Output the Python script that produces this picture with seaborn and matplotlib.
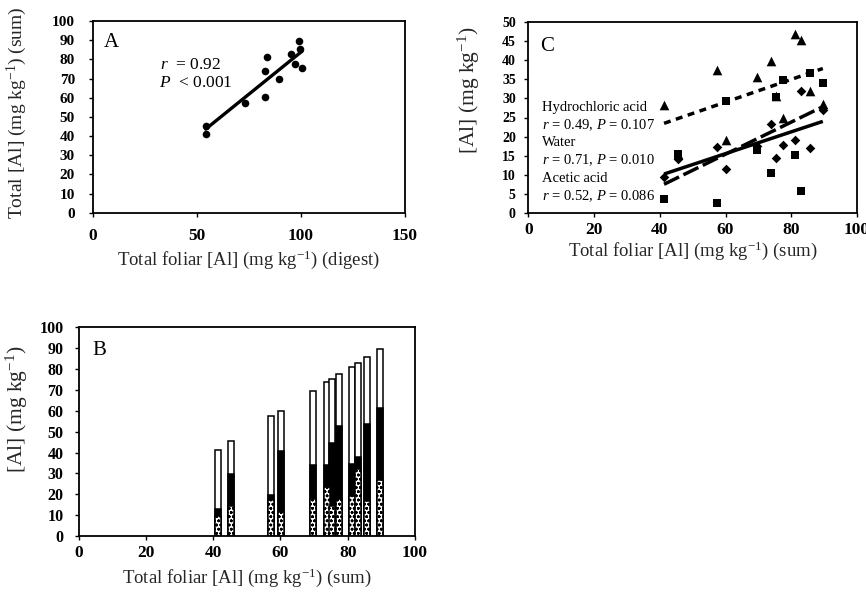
import numpy as np
import pandas as pd
import matplotlib
matplotlib.use("Agg")
import matplotlib.pyplot as plt
import seaborn as sns

# ---------------- data ----------------
# sequential extraction fractions per sample (mg kg-1)
water = [9.4, 14.2, 17.2, 11.6, 17.6, 23.3, 14.4, 17.9, 19.2, 32.0, 17.0, 27.0]
acetic = [3.7, 15.6, 2.6, 29.3, 16.4, 10.6, 30.3, 34.7, 15.2, 5.9, 36.7, 34.1]
hcl = [28.2, 15.6, 37.5, 19.2, 35.6, 39.8, 30.6, 24.8, 46.8, 45.1, 31.9, 28.5]
# total foliar Al by digest (panel A x)
digest = [54.2, 54.2, 72.9, 82.5, 89.4, 82.5, 100.5, 97.0, 83.8, 95.4, 99.4, 98.9]

df = pd.DataFrame({"water": water, "acetic": acetic, "hcl": hcl, "digest": digest})
df["total"] = df["water"] + df["acetic"] + df["hcl"]
df["wa"] = df["water"] + df["acetic"]

sns.set_theme(style="ticks")
plt.rcParams["font.family"] = ["Liberation Serif", "DejaVu Serif"]
plt.rcParams["mathtext.fontset"] = "custom"
plt.rcParams["mathtext.rm"] = "Liberation Serif"
plt.rcParams["mathtext.it"] = "Liberation Serif:italic"
plt.rcParams["mathtext.bf"] = "Liberation Serif:bold"
plt.rcParams["hatch.linewidth"] = 0.8
plt.rcParams["axes.edgecolor"] = "black"
plt.rcParams["text.color"] = "black"
plt.rcParams["xtick.color"] = "black"
plt.rcParams["ytick.color"] = "black"

W, H = 866, 594
fig = plt.figure(figsize=(W / 100, H / 100), dpi=100)


def box(l, r, t, b):
    return fig.add_axes([l / W, 1 - b / H, (r - l) / W, (b - t) / H])


axA = box(93, 405, 21, 212.7)
axC = box(528.3, 857, 21.7, 213.3)
axB = box(78.7, 415, 327.3, 536)

unit = r"(mg kg$^{-1}$)"


def style(ax, xsize, ysize):
    for s in ax.spines.values():
        s.set_visible(True)
        s.set_linewidth(1.3)
        s.set_color("black")
    ax.tick_params(direction="out", length=3, width=1, colors="black")
    ax.tick_params(axis="x", labelsize=xsize)
    ax.tick_params(axis="y", labelsize=ysize)
    for lab in ax.get_xticklabels() + ax.get_yticklabels():
        lab.set_fontweight("bold")


# ---------------- Panel A ----------------
sns.scatterplot(data=df, x="digest", y="total", ax=axA, color="black",
                marker="o", s=30, edgecolor="black", linewidth=0, zorder=3)
sns.regplot(data=df, x="digest", y="total", ax=axA, scatter=False, ci=None,
            color="black", line_kws=dict(lw=2.4))
axA.set_xlim(0, 150)
axA.set_ylim(0, 100)
axA.set_xticks([0, 50, 100, 150])
axA.set_yticks(range(0, 101, 10))
axA.set_xlabel("Total foliar [Al] " + unit + " (digest)", fontsize=13.5, labelpad=3)
axA.set_ylabel("Total [Al] " + unit + " (sum)", fontsize=14)
axA.yaxis.set_label_coords(-0.205, 0.52)
axA.text(0.035, 0.89, "A", transform=axA.transAxes, fontsize=15, va="center")
axA.text(0.215, 0.77, r"$\mathit{r}$  = 0.92", transform=axA.transAxes,
         fontsize=12.5, va="center")
axA.text(0.21, 0.675, r"$\mathit{P}$  < 0.001", transform=axA.transAxes,
         fontsize=12.5, va="center")
style(axA, 12.5, 11)
axA.tick_params(axis="x", pad=8)
axA.tick_params(axis="y", pad=10)

# ---------------- Panel B ----------------
common = dict(ax=axB, native_scale=True, width=1.1, edgecolor="black",
              linewidth=1.1, errorbar=None)
sns.barplot(data=df, x="total", y="total", color="white", saturation=1, **common)
sns.barplot(data=df, x="total", y="wa", color="black", saturation=1, **common)
sns.barplot(data=df, x="total", y="water", color="white", saturation=1,
            hatch="oooo", **common)
axB.set_xlim(0, 100)
axB.set_ylim(0, 100)
axB.set_xticks(range(0, 101, 20))
axB.set_xticklabels([str(v) for v in range(0, 101, 20)])
axB.set_yticks(range(0, 101, 10))
axB.set_xlabel("Total foliar [Al] " + unit + " (sum)", fontsize=13.5)
axB.set_ylabel("[Al] " + unit, fontsize=15.5)
axB.yaxis.set_label_coords(-0.145, 0.61)
axB.text(0.04, 0.89, "B", transform=axB.transAxes, fontsize=15, va="center")
style(axB, 12.5, 11.5)
axB.tick_params(axis="y", pad=8)

# ---------------- Panel C ----------------
series = [("hcl", "^", 48, (2.0, 1.6)),
          ("water", "D", 24, None),
          ("acetic", "s", 32, (4.8, 1.4))]
for col, mk, sz, dash in series:
    sns.scatterplot(data=df, x="total", y=col, ax=axC, color="black", marker=mk,
                    s=sz, edgecolor="black", linewidth=0, zorder=3)
    lk = dict(lw=2.5, solid_capstyle="butt", dash_capstyle="butt")
    if dash is not None:
        lk["dashes"] = dash
    sns.regplot(data=df, x="total", y=col, ax=axC, scatter=False, ci=None,
                color="black", line_kws=lk)
axC.set_xlim(0, 100)
axC.set_ylim(0, 50)
axC.set_xticks(range(0, 101, 20))
axC.set_yticks(range(0, 51, 5))
axC.set_xlabel("Total foliar [Al] " + unit + " (sum)", fontsize=13.5, labelpad=1)
axC.set_ylabel("[Al] " + unit, fontsize=15.5)
axC.yaxis.set_label_coords(-0.14, 0.64)
axC.text(0.035, 0.87, "C", transform=axC.transAxes, fontsize=15, va="center")
labels = ["Hydrochloric acid", r"$\mathit{r}$ = 0.49, $\mathit{P}$ = 0.107",
          "Water", r"$\mathit{r}$ = 0.71, $\mathit{P}$ = 0.010",
          "Acetic acid", r"$\mathit{r}$ = 0.52, $\mathit{P}$ = 0.086"]
ys = [0.55, 0.46, 0.367, 0.276, 0.182, 0.088]
for t, yy in zip(labels, ys):
    axC.text(0.042, yy, t, transform=axC.transAxes, fontsize=10.5, va="center")
style(axC, 12.5, 10)
axC.tick_params(axis="y", pad=6)
axC.tick_params(axis="x", pad=3)

fig.savefig("out.png", dpi=100)
